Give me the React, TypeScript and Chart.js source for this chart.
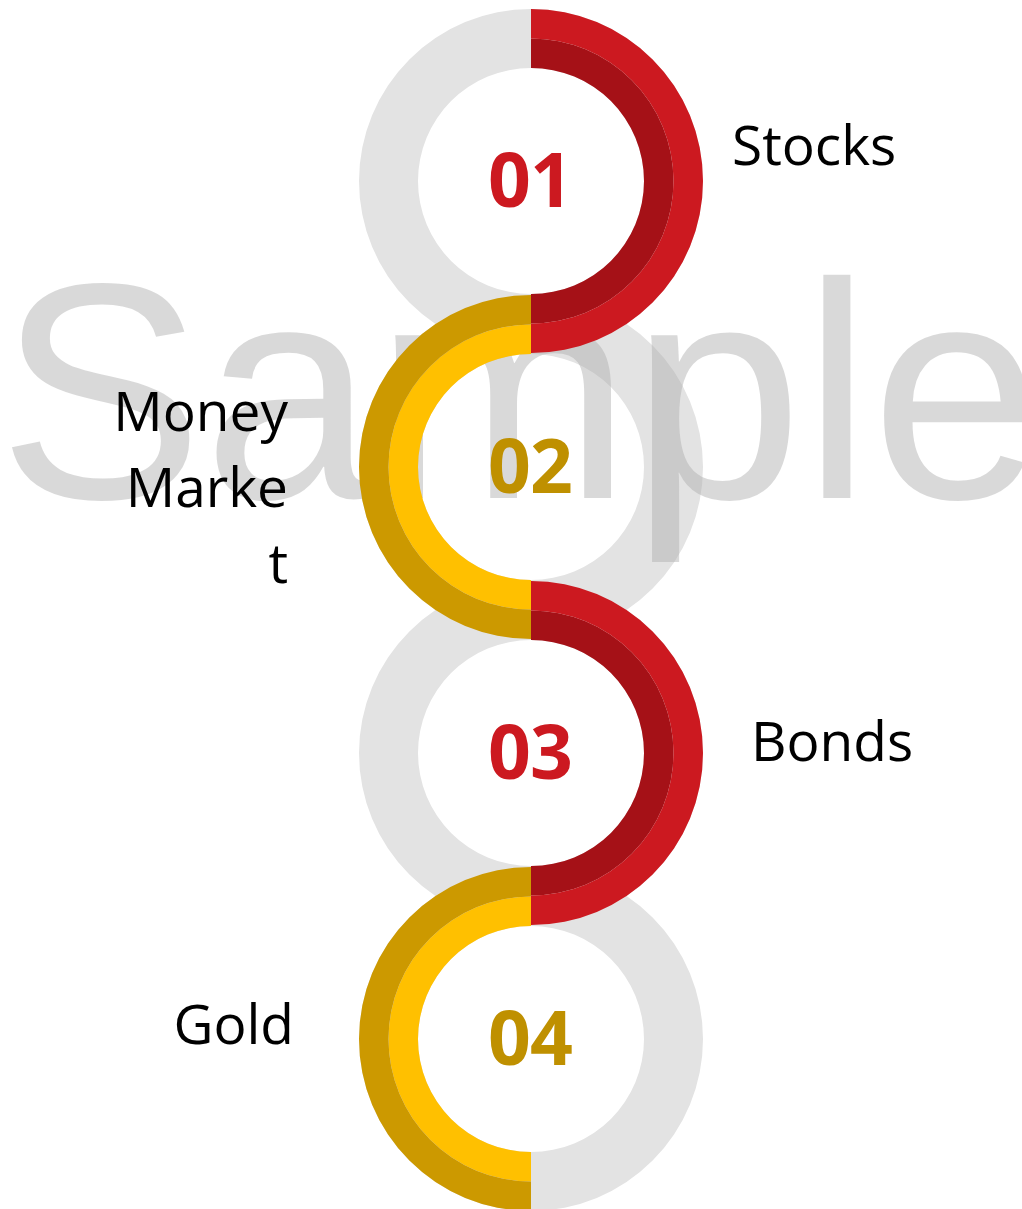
import React, { useEffect, useRef } from "react";
import { Chart, registerables } from "chart.js";

Chart.register(...registerables);

// ---- data ----
const categories = ["Stocks", "Money Market", "Bonds", "Gold"];
const stepLabels = ["01", "02", "03", "04"];
const highlightShare = [50, 50, 50, 50];
const highlightSide = ["right", "left", "right", "left"];
const trackShare = [100, 100, 100, 100];

// ---- styles ----
const palette = {
  track: "#e3e3e3",
  outer: ["#cc1920", "#cc9900", "#cc1920", "#cc9900"],
  inner: ["#a51117", "#ffc000", "#a51117", "#ffc000"],
  number: ["#cc1920", "#bf9000", "#cc1920", "#bf9000"],
  none: "rgba(0,0,0,0)",
};

const layout = {
  cx: 531,
  cy: [181, 467, 753, 1039],
  radius: 172,
  cutout: "65.7%",
};

const labelBoxes: React.CSSProperties[] = [
  { left: 732, top: 106 },
  { left: 0, width: 288, top: 372, textAlign: "right" },
  { left: 751, top: 702 },
  { left: 0, width: 294, top: 985, textAlign: "right" },
];

const baseOptions: any = {
  responsive: false,
  maintainAspectRatio: false,
  animation: false,
  events: [],
  cutout: layout.cutout,
  layout: { padding: 0 },
  plugins: { legend: { display: false }, tooltip: { enabled: false } },
};

function trackConfig(i: number): any {
  return {
    type: "doughnut",
    data: {
      labels: [categories[i]],
      datasets: [
        {
          data: [trackShare[i]],
          backgroundColor: [palette.track],
          borderWidth: 0,
          hoverOffset: 0,
          offset: 0,
        },
      ],
    },
    options: baseOptions,
  };
}

function highlightConfig(i: number): any {
  const share = highlightShare[i];
  const right = highlightSide[i] === "right";
  const values = right ? [share, 100 - share] : [100 - share, share];
  const colors = (c: string) => (right ? [c, palette.none] : [palette.none, c]);
  return {
    type: "doughnut",
    data: {
      labels: [categories[i], ""],
      datasets: [
        {
          data: values,
          backgroundColor: colors(palette.outer[i]),
          borderWidth: 0,
          hoverOffset: 0,
          offset: 0,
        },
        {
          data: values,
          backgroundColor: colors(palette.inner[i]),
          borderWidth: 0,
          hoverOffset: 0,
          offset: 0,
        },
      ],
    },
    options: baseOptions,
  };
}

export default function App() {
  const trackRefs = useRef<(HTMLCanvasElement | null)[]>([]);
  const hiRefs = useRef<(HTMLCanvasElement | null)[]>([]);

  useEffect(() => {
    const charts: Chart[] = [];
    categories.forEach((_, i) => {
      const t = trackRefs.current[i];
      const h = hiRefs.current[i];
      if (t) charts.push(new Chart(t, trackConfig(i)));
      if (h) charts.push(new Chart(h, highlightConfig(i)));
    });
    return () => charts.forEach((c) => c.destroy());
  }, []);

  const size = layout.radius * 2;
  const canvasStyle = (i: number, z: number): React.CSSProperties => ({
    position: "absolute",
    left: layout.cx - layout.radius,
    top: layout.cy[i] - layout.radius,
    width: size,
    height: size,
    zIndex: z,
  });

  const labelFont: React.CSSProperties = {
    position: "absolute",
    fontFamily: "'Open Sans', sans-serif",
    fontSize: 55,
    lineHeight: "76px",
    color: "#000",
    whiteSpace: "nowrap",
    zIndex: 4,
  };

  return (
    <div
      style={{
        position: "absolute",
        left: 0,
        top: 0,
        width: 1022,
        height: 1209,
        overflow: "hidden",
        background: "#fff",
      }}
    >
      {categories.map((c, i) => (
        <canvas
          key={"t" + i}
          ref={(el) => {
            trackRefs.current[i] = el;
          }}
          width={size}
          height={size}
          style={canvasStyle(i, 1)}
        />
      ))}
      <div
        style={{
          position: "absolute",
          left: -2,
          top: 237,
          fontFamily: "'Liberation Sans', Arial, sans-serif",
          fontSize: 308,
          lineHeight: "308px",
          color: "rgba(173,173,173,0.46)",
          whiteSpace: "nowrap",
          zIndex: 2,
        }}
      >
        Sample
      </div>
      {categories.map((c, i) => (
        <canvas
          key={"h" + i}
          ref={(el) => {
            hiRefs.current[i] = el;
          }}
          width={size}
          height={size}
          style={canvasStyle(i, 3)}
        />
      ))}
      {stepLabels.map((n, i) => (
        <div
          key={"n" + i}
          style={{
            position: "absolute",
            left: layout.cx - 101,
            width: 200,
            top: layout.cy[i] - 40,
            textAlign: "center",
            fontFamily: "'Open Sans', sans-serif",
            fontWeight: 700,
            fontSize: 75,
            lineHeight: "75px",
            letterSpacing: "-1px",
            color: palette.number[i],
            zIndex: 4,
          }}
        >
          {n}
        </div>
      ))}
      <div style={{ ...labelFont, ...labelBoxes[0] }}>{categories[0]}</div>
      <div style={{ ...labelFont, ...labelBoxes[1] }}>
        Money
        <br />
        Marke
        <br />t
      </div>
      <div style={{ ...labelFont, ...labelBoxes[2] }}>{categories[2]}</div>
      <div style={{ ...labelFont, ...labelBoxes[3] }}>{categories[3]}</div>
    </div>
  );
}
